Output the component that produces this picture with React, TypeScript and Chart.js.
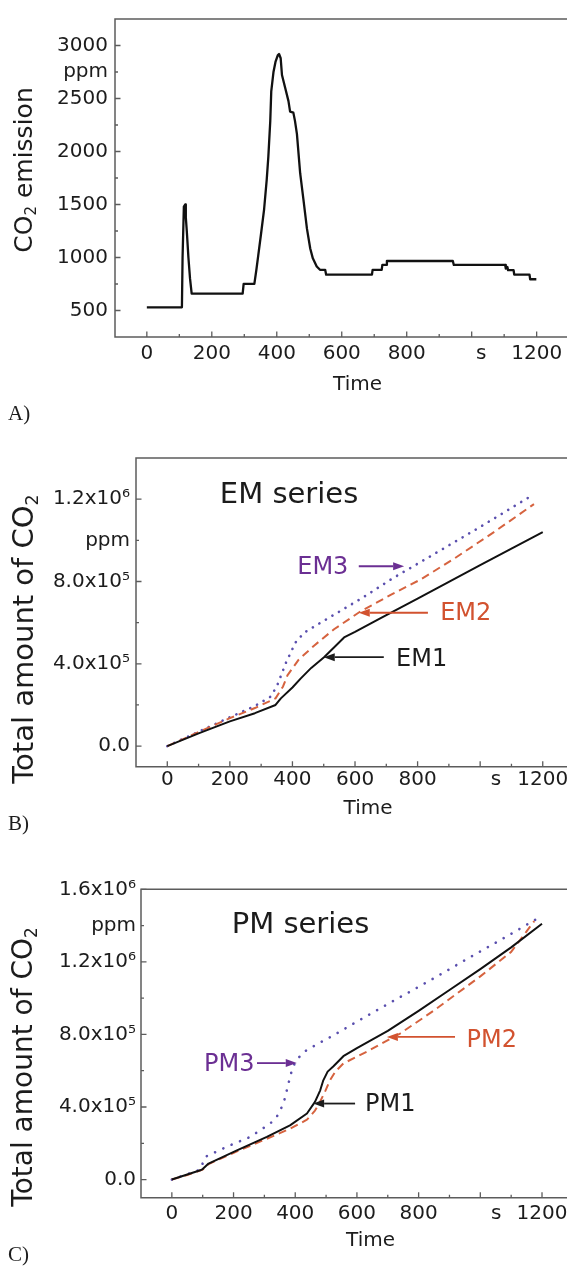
import React, { useEffect, useRef } from "react";
import { Chart, registerables } from "chart.js";

Chart.register(...registerables);

const FONT = "'DejaVu Sans', 'Liberation Sans', Arial, sans-serif";
const TEXT = "#1c1c1c";
const AXIS = "#5c5c5c";
const PURPLE = "#6b2f93";
const PURPLE_DOT = "#5a4fae";
const RED = "#d2522f";
const RED_DASH = "#d6633f";

// ---------- Panel A: CO2 emission (ppm) vs time (s) ----------
const timeA = [0, 108, 110, 114, 118, 120, 123, 128, 133, 138, 295, 298, 331, 337, 343, 351, 361, 369, 374, 380, 383, 390, 396, 403, 407, 412, 416, 426, 436, 441, 451, 456, 462, 472, 482, 493, 503, 511, 523, 533, 549, 552, 693, 695, 723, 725, 737, 739, 942, 945, 1103, 1105, 1110, 1112, 1129, 1131, 1178, 1180, 1199];
const co2A = [530, 530, 1000, 1480, 1500, 1380, 1250, 1000, 800, 660, 660, 751, 751, 880, 1020, 1210, 1455, 1733, 1950, 2290, 2567, 2753, 2845, 2907, 2920, 2880, 2722, 2599, 2475, 2376, 2367, 2289, 2166, 1795, 1548, 1270, 1085, 992, 915, 884, 884, 838, 838, 884, 884, 930, 930, 967, 967, 930, 930, 895, 910, 880, 880, 838, 838, 795, 795];

// ---------- Panel B: EM series, total CO2 (ppm) ----------
const timeEM1 = [0, 100, 200, 280, 346, 363, 400, 426, 460, 501, 540, 565, 600, 682, 800, 900, 1000, 1100, 1200];
const em1 = [0, 62000, 120000, 160000, 200000, 232000, 285000, 328000, 380000, 432000, 490000, 528000, 555000, 622000, 717000, 798000, 879000, 960000, 1040000];
const timeEM2 = [0, 100, 200, 280, 346, 370, 384, 420, 469, 533, 618, 714, 810, 916, 1044, 1172];
const em2 = [0, 68000, 136000, 185000, 232000, 290000, 344000, 420000, 488000, 568000, 655000, 735000, 810000, 910000, 1040000, 1176000];
const timeEM3 = [0, 100, 200, 280, 330, 350, 380, 410, 438, 508, 623, 720, 810, 1000, 1172];
const em3 = [0, 70000, 140000, 195000, 240000, 290000, 408000, 504000, 552000, 616000, 720000, 815000, 895000, 1065000, 1224000];

// ---------- Panel C: PM series, total CO2 (ppm) ----------
const timePM1 = [0, 50, 92, 100, 119, 211, 308, 383, 438, 464, 481, 491, 505, 524, 556, 600, 700, 800, 900, 1000, 1100, 1200];
const pm1 = [0, 28000, 51000, 58000, 88000, 161000, 235000, 299000, 364000, 428000, 492000, 547000, 595000, 625000, 680000, 725000, 820000, 930000, 1045000, 1160000, 1280000, 1410000];
const timePM2 = [0, 50, 100, 119, 211, 308, 383, 438, 464, 481, 498, 512, 530, 556, 632, 740, 848, 1000, 1100, 1175];
const pm2 = [0, 25000, 55000, 85000, 155000, 225000, 280000, 330000, 380000, 430000, 490000, 545000, 595000, 640000, 705000, 805000, 930000, 1120000, 1255000, 1425000];
const timePM3 = [0, 50, 92, 100, 108, 189, 254, 319, 340, 362, 378, 389, 400, 420, 438, 513, 610, 729, 850, 956, 1060, 1178];
const pm3 = [0, 30000, 55000, 90000, 125000, 189000, 235000, 309000, 345000, 419000, 529000, 602000, 648000, 690000, 715000, 785000, 880000, 995000, 1110000, 1215000, 1315000, 1432000];

// ---------- Ticks ----------
const xMajorTicks = [0, 200, 400, 600, 800, 1000, 1200];
const xMinorTicks = [100, 300, 500, 700, 900, 1100];
const xTickLabels = ["0", "200", "400", "600", "800", "s", "1200"];

const yMajorA = [500, 1000, 1500, 2000, 2500, 3000];
const yMinorA = [750, 1250, 1750, 2250, 2750];
const yLabelsA = ["500", "1000", "1500", "2000", "2500", "3000"];

const yMajorB = [0, 400000, 800000, 1200000];
const yMinorB = [200000, 600000, 1000000];
const yLabelsB = ["0.0", "4.0x10\u2075", "8.0x10\u2075", "1.2x10\u2076"];

const yMajorC = [0, 400000, 800000, 1200000, 1600000];
const yMinorC = [200000, 600000, 1000000, 1400000];
const yLabelsC = ["0.0", "4.0x10\u2075", "8.0x10\u2075", "1.2x10\u2076", "1.6x10\u2076"];

const unitLabel = "ppm";

type Series = { t: number[]; v: number[]; color: string; width: number; dash?: number[]; cap?: CanvasLineCap };
type Note = { text: string; color: string; x: number; y: number; size: number; align: CanvasTextAlign };
type Arrow = { color: string; x0: number; x1: number; y: number };
type PanelCfg = {
  top: number; height: number; padTop: number; yW: number; xH: number;
  xLabelPad: number; xTitlePad: number; yLabelPad: number; sShift: number;
  xMin: number; xMax: number; yMin: number; yMax: number;
  yMajor: number[]; yMinor: number[]; yLabels: string[]; unitTick: number;
  series: Series[]; notes: Note[]; arrows: Arrow[];
};

const panelA: PanelCfg = {
  top: 0, height: 400, padTop: 13, yW: 115, xH: 63, xLabelPad: 5, xTitlePad: 3, yLabelPad: 7, sShift: 3,
  xMin: -98, xMax: 1395, yMin: 250, yMax: 3250,
  yMajor: yMajorA, yMinor: yMinorA, yLabels: yLabelsA, unitTick: 2750,
  series: [{ t: timeA, v: co2A, color: "#111111", width: 2.3 }],
  notes: [], arrows: [],
};

const panelB: PanelCfg = {
  top: 440, height: 390, padTop: 14, yW: 136, xH: 63.3, xLabelPad: 1.5, xTitlePad: 9, yLabelPad: 6, sShift: 5,
  xMin: -100, xMax: 1383, yMin: -100000, yMax: 1400000,
  yMajor: yMajorB, yMinor: yMinorB, yLabels: yLabelsB, unitTick: 1000000,
  series: [
    { t: timeEM1, v: em1, color: "#111111", width: 2 },
    { t: timeEM2, v: em2, color: RED_DASH, width: 2, dash: [8, 5] },
    { t: timeEM3, v: em3, color: PURPLE_DOT, width: 2.6, dash: [0.1, 7.5], cap: "round" },
  ],
  notes: [
    { text: "EM series", color: TEXT, x: 168, y: 1219000, size: 29, align: "left" },
    { text: "EM3", color: PURPLE, x: 497, y: 869000, size: 24, align: "center" },
    { text: "EM2", color: RED, x: 954, y: 643000, size: 24, align: "center" },
    { text: "EM1", color: TEXT, x: 813, y: 422000, size: 24, align: "center" },
  ],
  arrows: [
    { color: PURPLE, x0: 612, x1: 757, y: 874000 },
    { color: RED, x0: 833, x1: 612, y: 648000 },
    { color: TEXT, x0: 692, x1: 500, y: 432000 },
  ],
};

const panelC: PanelCfg = {
  top: 860, height: 400, padTop: 29.3, yW: 141, xH: 62.3, xLabelPad: 4.5, xTitlePad: 7, yLabelPad: 5, sShift: 5,
  xMin: -100, xMax: 1388, yMin: -100000, yMax: 1600000,
  yMajor: yMajorC, yMinor: yMinorC, yLabels: yLabelsC, unitTick: 1400000,
  series: [
    { t: timePM1, v: pm1, color: "#111111", width: 2 },
    { t: timePM2, v: pm2, color: RED_DASH, width: 2, dash: [8, 5] },
    { t: timePM3, v: pm3, color: PURPLE_DOT, width: 2.6, dash: [0.1, 9], cap: "round" },
  ],
  notes: [
    { text: "PM series", color: TEXT, x: 194, y: 1402000, size: 29, align: "left" },
    { text: "PM3", color: PURPLE, x: 186, y: 635000, size: 24, align: "center" },
    { text: "PM1", color: TEXT, x: 708, y: 415000, size: 24, align: "center" },
    { text: "PM2", color: RED, x: 1037, y: 767000, size: 24, align: "center" },
  ],
  arrows: [
    { color: PURPLE, x0: 276, x1: 405, y: 642000 },
    { color: TEXT, x0: 594, x1: 458, y: 419000 },
    { color: RED, x0: 918, x1: 697, y: 786000 },
  ],
};

function buildConfig(p: PanelCfg): any {
  const xTickValues = [...xMajorTicks, ...xMinorTicks].sort((a, b) => a - b);
  const yTickValues = [...p.yMajor, ...p.yMinor].sort((a, b) => a - b);

  const framePlugin = {
    id: "frame",
    afterDraw(chart: any) {
      const { ctx, chartArea, scales } = chart;
      const { left, top, right, bottom } = chartArea;
      const x = scales.x;
      const y = scales.y;
      ctx.save();
      ctx.strokeStyle = AXIS;
      ctx.lineWidth = 1.5;
      ctx.beginPath();
      ctx.moveTo(right, top);
      ctx.lineTo(left, top);
      ctx.lineTo(left, bottom);
      ctx.lineTo(right, bottom);
      ctx.stroke();
      ctx.lineWidth = 1.3;
      ctx.beginPath();
      xMajorTicks.forEach((v) => { const px = x.getPixelForValue(v); ctx.moveTo(px, bottom); ctx.lineTo(px, bottom - 5.5); });
      xMinorTicks.forEach((v) => { const px = x.getPixelForValue(v); ctx.moveTo(px, bottom); ctx.lineTo(px, bottom - 3); });
      p.yMajor.forEach((v) => { const py = y.getPixelForValue(v); ctx.moveTo(left, py); ctx.lineTo(left + 5.5, py); });
      p.yMinor.forEach((v) => { const py = y.getPixelForValue(v); ctx.moveTo(left, py); ctx.lineTo(left + 3, py); });
      ctx.stroke();
      ctx.restore();
    },
  };

  const notesPlugin = {
    id: "notes",
    afterDatasetsDraw(chart: any) {
      const { ctx, scales } = chart;
      const x = scales.x;
      const y = scales.y;
      ctx.save();
      p.notes.forEach((n) => {
        ctx.font = `${n.size}px ${FONT}`;
        ctx.fillStyle = n.color;
        ctx.textAlign = n.align;
        ctx.textBaseline = "middle";
        ctx.fillText(n.text, x.getPixelForValue(n.x), y.getPixelForValue(n.y));
      });
      p.arrows.forEach((a) => {
        const x0 = x.getPixelForValue(a.x0);
        const x1 = x.getPixelForValue(a.x1);
        const yy = y.getPixelForValue(a.y);
        const dir = x1 > x0 ? 1 : -1;
        const head = 11;
        ctx.strokeStyle = a.color;
        ctx.fillStyle = a.color;
        ctx.lineWidth = 1.8;
        ctx.beginPath();
        ctx.moveTo(x0, yy);
        ctx.lineTo(x1 - dir * head, yy);
        ctx.stroke();
        ctx.beginPath();
        ctx.moveTo(x1, yy);
        ctx.lineTo(x1 - dir * head, yy - 4);
        ctx.lineTo(x1 - dir * head, yy + 4);
        ctx.closePath();
        ctx.fill();
      });
      ctx.restore();
    },
  };

  return {
    type: "line",
    data: {
      datasets: p.series.map((s) => ({
        data: s.t.map((t, i) => ({ x: t, y: s.v[i] })),
        borderColor: s.color,
        backgroundColor: s.color,
        borderWidth: s.width,
        borderDash: s.dash || [],
        borderCapStyle: s.cap || "butt",
        borderJoinStyle: "round",
        pointRadius: 0,
        tension: 0,
        fill: false,
      })),
    },
    options: {
      responsive: false,
      animation: false,
      events: [],
      layout: { padding: { left: 0, right: 0, top: p.padTop, bottom: 0 } },
      plugins: { legend: { display: false }, tooltip: { enabled: false } },
      scales: {
        x: {
          type: "linear",
          min: p.xMin,
          max: p.xMax,
          grid: { display: false, drawTicks: false },
          border: { display: false },
          afterBuildTicks: (s: any) => { s.ticks = xTickValues.map((v) => ({ value: v })); },
          afterFit: (s: any) => { s.height = p.xH; },
          ticks: {
            autoSkip: false, maxRotation: 0, minRotation: 0, padding: p.xLabelPad, color: TEXT,
            font: { family: FONT, size: 20 },
            callback: (v: number) => {
              const i = xMajorTicks.indexOf(v);
              if (i < 0) return "";
              const lab = xTickLabels[i];
              return lab === "s" ? "\u00A0".repeat(p.sShift) + lab : lab;
            },
          },
          title: { display: true, text: "Time", color: TEXT, font: { family: FONT, size: 20 }, padding: { top: 0, bottom: p.xTitlePad } },
        },
        y: {
          type: "linear",
          min: p.yMin,
          max: p.yMax,
          grid: { display: false, drawTicks: false },
          border: { display: false },
          afterBuildTicks: (s: any) => { s.ticks = yTickValues.map((v) => ({ value: v })); },
          afterFit: (s: any) => { s.width = p.yW; },
          ticks: {
            autoSkip: false, padding: p.yLabelPad, color: TEXT,
            font: { family: FONT, size: 20 },
            callback: (v: number) => {
              if (v === p.unitTick) return unitLabel;
              const i = p.yMajor.indexOf(v);
              return i >= 0 ? p.yLabels[i] : "";
            },
          },
        },
      },
    },
    plugins: [framePlugin, notesPlugin],
  };
}

function Panel({ cfg }: { cfg: PanelCfg }) {
  const ref = useRef<HTMLCanvasElement>(null);
  useEffect(() => {
    const chart = new Chart(ref.current as HTMLCanvasElement, buildConfig(cfg));
    return () => chart.destroy();
  }, [cfg]);
  return (
    <canvas
      ref={ref}
      width={600}
      height={cfg.height}
      style={{ position: "absolute", left: 0, top: cfg.top, width: 600, height: cfg.height, display: "block" }}
    />
  );
}

function YTitle({ cx, cy, size, children }: { cx: number; cy: number; size: number; children: any }) {
  return (
    <div
      style={{
        position: "absolute", left: cx, top: cy, transform: "translate(-50%, -50%) rotate(-90deg)",
        whiteSpace: "nowrap", fontFamily: FONT, fontSize: size, lineHeight: 1, color: TEXT,
      }}
    >
      {children}
    </div>
  );
}

const subStyle: React.CSSProperties = { fontSize: "0.6em", verticalAlign: "-0.3em", lineHeight: 0 };

function PanelLabel({ top, text }: { top: number; text: string }) {
  return (
    <div style={{ position: "absolute", left: 8, top, fontFamily: "'Liberation Serif', 'Times New Roman', serif", fontSize: 21, lineHeight: 1, color: TEXT }}>
      {text}
    </div>
  );
}

export default function App() {
  return (
    <div style={{ position: "absolute", left: 0, top: 0, width: 567, height: 1269, overflow: "hidden", background: "#ffffff" }}>
      <Panel cfg={panelA} />
      <Panel cfg={panelB} />
      <Panel cfg={panelC} />
      <YTitle cx={22.5} cy={170} size={25}>CO<sub style={subStyle}>2</sub> emission</YTitle>
      <YTitle cx={23.3} cy={639} size={29}>Total amount of CO<sub style={subStyle}>2</sub></YTitle>
      <YTitle cx={22.5} cy={1067} size={28}>Total amount of CO<sub style={subStyle}>2</sub></YTitle>
      <PanelLabel top={403} text="A)" />
      <PanelLabel top={813} text="B)" />
      <PanelLabel top={1244} text="C)" />
    </div>
  );
}
